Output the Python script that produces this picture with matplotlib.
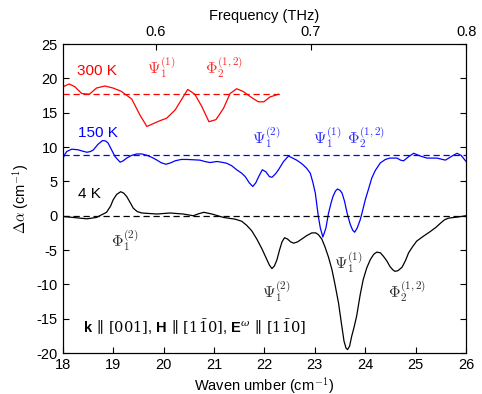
import matplotlib
matplotlib.use('Agg')
import matplotlib.pyplot as plt

plt.rcParams['font.family'] = ['Liberation Sans', 'DejaVu Sans']
plt.rcParams['mathtext.fontset'] = 'cm'
plt.rcParams['mathtext.rm'] = 'DejaVu Serif'
plt.rcParams['mathtext.it'] = 'DejaVu Serif:italic'
plt.rcParams['mathtext.bf'] = 'Liberation Sans:bold'
plt.rcParams['mathtext.sf'] = 'Liberation Sans'
plt.rcParams['axes.unicode_minus'] = False

# 300 K (coarse data, only up to ~22.3 cm-1)
wn_300 = [18.01, 18.13, 18.24, 18.38, 18.53, 18.67, 18.84, 19.0, 19.17, 19.24, 19.37, 19.53,
          19.67, 19.93, 20.06, 20.23, 20.48, 20.62, 20.76, 20.9, 21.04, 21.19, 21.32, 21.45,
          21.58, 21.75, 21.88, 21.99, 22.11, 22.28]
da_300 = [18.8, 19.2, 18.8, 17.8, 17.7, 18.6, 18.9, 18.6, 18.1, 17.7, 17.0, 14.7,
          13.0, 13.85, 14.2, 15.4, 18.4, 17.7, 15.9, 13.7, 14.0, 15.65, 17.8, 18.5,
          18.1, 17.2, 16.6, 16.6, 17.3, 17.7]
base_300 = 17.7

# 150 K
wn_150 = [18.0, 18.04, 18.08, 18.18, 18.31, 18.4, 18.48, 18.55, 18.61, 18.7, 18.79, 18.85,
          18.9, 18.97, 19.04, 19.14, 19.2, 19.27, 19.37, 19.47, 19.57, 19.67, 19.77, 19.87,
          19.96, 20.05, 20.14, 20.23, 20.35, 20.46, 20.6, 20.72, 20.82, 20.92, 21.06, 21.15,
          21.25, 21.35, 21.45, 21.55, 21.62, 21.7, 21.77, 21.83, 21.88, 21.96, 22.03, 22.1,
          22.15, 22.22, 22.28, 22.38, 22.48, 22.56, 22.64, 22.72, 22.77, 22.84, 22.91, 22.96,
          23.01, 23.04, 23.07, 23.11, 23.16, 23.22, 23.27, 23.32, 23.36, 23.41, 23.45, 23.5,
          23.54, 23.59, 23.64, 23.7, 23.75, 23.79, 23.84, 23.9, 23.95, 24.0, 24.07, 24.13,
          24.2, 24.3, 24.4, 24.49, 24.63, 24.7, 24.76, 24.86, 24.96, 25.09, 25.22, 25.42,
          25.59, 25.7, 25.82, 25.9, 26.0]
da_150 = [8.2, 8.9, 9.35, 9.7, 9.6, 9.4, 9.25, 9.35, 9.6, 10.4, 10.95, 10.9,
          10.6, 9.6, 8.6, 7.8, 8.0, 8.4, 8.8, 9.0, 9.0, 8.8, 8.5, 8.1,
          7.7, 7.5, 7.7, 8.0, 8.2, 8.2, 8.15, 8.1, 7.9, 7.75, 7.9, 7.8,
          7.65, 7.3, 6.7, 6.2, 5.7, 4.8, 4.26, 4.8, 5.6, 6.7, 6.4, 5.7,
          5.6, 6.1, 6.7, 7.9, 8.7, 8.4, 8.1, 7.7, 7.4, 6.9, 6.2, 4.9,
          3.3, 1.6, -0.1, -1.8, -3.1, -1.8, 0.3, 1.8, 2.8, 3.6, 3.9, 3.7,
          3.3, 2.1, 0.4, -1.2, -2.1, -2.4, -1.8, -0.6, 0.8, 2.3, 4.0, 5.5,
          6.6, 7.7, 8.2, 8.4, 8.4, 8.1, 8.0, 8.6, 9.1, 8.7, 8.4, 8.4,
          8.1, 8.6, 9.1, 8.8, 7.9]
base_150 = 8.9

# 4 K
wn_4 = [18.0, 18.21, 18.48, 18.67, 18.87, 18.95, 19.0, 19.07, 19.15, 19.21, 19.27, 19.34,
        19.4, 19.48, 19.57, 19.87, 20.13, 20.39, 20.59, 20.7, 20.8, 20.96, 21.19, 21.42,
        21.55, 21.65, 21.75, 21.85, 21.95, 22.05, 22.1, 22.15, 22.2, 22.25, 22.3, 22.35,
        22.4, 22.46, 22.52, 22.58, 22.66, 22.74, 22.84, 22.94, 23.02, 23.07, 23.14, 23.2,
        23.27, 23.34, 23.4, 23.47, 23.53, 23.58, 23.62, 23.65, 23.69, 23.73, 23.78, 23.83,
        23.9, 23.96, 24.03, 24.1, 24.17, 24.23, 24.3, 24.36, 24.43, 24.49, 24.55, 24.59,
        24.65, 24.73, 24.8, 24.86, 24.94, 25.02, 25.15, 25.29, 25.4, 25.49, 25.57, 25.65,
        25.82, 26.0]
da_4 = [-0.1, -0.25, -0.45, -0.25, 0.5, 1.4, 2.3, 3.1, 3.5, 3.3, 2.8, 1.9,
        1.1, 0.6, 0.4, 0.25, 0.4, 0.25, 0.0, 0.3, 0.5, 0.25, -0.25, -0.5,
        -0.8, -1.4, -2.2, -3.4, -4.8, -6.4, -7.2, -7.7, -7.3, -6.4, -5.0, -3.8,
        -3.2, -3.4, -3.8, -4.0, -3.8, -3.4, -2.9, -2.5, -2.5, -2.75, -3.4, -4.5,
        -6.0, -7.85, -10.0, -12.7, -15.8, -18.3, -19.3, -19.5, -19.0, -17.6, -16.2, -14.6,
        -11.5, -9.3, -7.6, -6.4, -5.6, -5.3, -5.4, -5.9, -6.6, -7.4, -7.9, -8.1,
        -8.0, -7.5, -6.5, -5.4, -4.5, -3.7, -3.0, -2.3, -1.7, -1.1, -0.6, -0.35,
        -0.2, 0.0]
base_4 = 0.0

xticks = [18, 19, 20, 21, 22, 23, 24, 25, 26]
yticks = [-20, -15, -10, -5, 0, 5, 10, 15, 20, 25]
thz_ticks = [0.6, 0.7, 0.8]

fig = plt.figure(figsize=(4.82, 3.94), dpi=100)
ax = fig.add_axes([0.130, 0.104, 0.837, 0.784])

ax.plot(wn_300, da_300, color='red', lw=0.9)
ax.plot([18, 22.3], [base_300, base_300], color='red', lw=0.9, ls='--', dashes=(5, 3))
ax.plot(wn_150, da_150, color='blue', lw=0.9)
ax.plot([18, 26], [base_150, base_150], color='blue', lw=0.9, ls='--', dashes=(5, 3))
ax.plot(wn_4, da_4, color='black', lw=0.9)
ax.plot([18, 26], [base_4, base_4], color='black', lw=0.9, ls='--', dashes=(5, 3))

ax.set_xlim(18, 26)
ax.set_ylim(-20, 25)
ax.set_xticks(xticks)
ax.set_yticks(yticks)
ax.tick_params(direction='in', right=True, top=False, labelsize=10.5, length=4)
ax.set_xlabel(r'Waven umber (cm$^{\mathsf{-1}}$)', fontsize=10.5, labelpad=2)
ax.set_ylabel(r'$\Delta\alpha$ (cm$^{-1}$)', fontsize=10.5, labelpad=4)

top = ax.twiny()
top.set_xlim(0.54, 0.8)
top.set_xticks(thz_ticks)
top.set_xticklabels(['0.6', '0.7', '0.8'])
top.tick_params(direction='in', labelsize=10.5, length=4)
top.set_xlabel('Frequency (THz)', fontsize=10.5, labelpad=4)

# temperature labels
ax.text(18.28, 21.1, '300 K', color='red', fontsize=11, va='center')
ax.text(18.3, 12.1, '150 K', color='blue', fontsize=11, va='center')
ax.text(18.3, 3.2, '4 K', color='black', fontsize=11, va='center')

# mode labels
fs = 11.5
ax.text(19.95, 21.6, r'$\Psi_1^{(1)}$', color='#ff3030', fontsize=fs, ha='center', va='center', math_fontfamily='cm')
ax.text(21.2, 21.6, r'$\Phi_2^{(1,2)}$', color='#ff3030', fontsize=fs, ha='center', va='center', math_fontfamily='cm')
ax.text(22.03, 11.4, r'$\Psi_1^{(2)}$', color='#3030ff', fontsize=fs, ha='center', va='center', math_fontfamily='cm')
ax.text(23.25, 11.4, r'$\Psi_1^{(1)}$', color='#3030ff', fontsize=fs, ha='center', va='center', math_fontfamily='cm')
ax.text(24.02, 11.4, r'$\Phi_2^{(1,2)}$', color='#3030ff', fontsize=fs, ha='center', va='center', math_fontfamily='cm')
ax.text(19.24, -3.6, r'$\Phi_1^{(2)}$', color='#303030', fontsize=fs, ha='center', va='center', math_fontfamily='cm')
ax.text(22.24, -11.0, r'$\Psi_1^{(2)}$', color='#303030', fontsize=fs, ha='center', va='center', math_fontfamily='cm')
ax.text(23.67, -6.8, r'$\Psi_1^{(1)}$', color='#303030', fontsize=fs, ha='center', va='center', math_fontfamily='cm')
ax.text(24.82, -11.0, r'$\Phi_2^{(1,2)}$', color='#303030', fontsize=fs, ha='center', va='center', math_fontfamily='cm')

ax.text(18.4, -16.2,
        r'$\mathbf{k}\,\parallel\,[001]$, $\mathbf{H}\,\parallel\,[\mathrm{1\bar{1}0}]$, '
        r'$\mathbf{E}^{\omega}\,\parallel\,[\mathrm{1\bar{1}0}]$',
        fontsize=10.5, va='center', math_fontfamily='custom')

fig.savefig('out.png', dpi=100)
